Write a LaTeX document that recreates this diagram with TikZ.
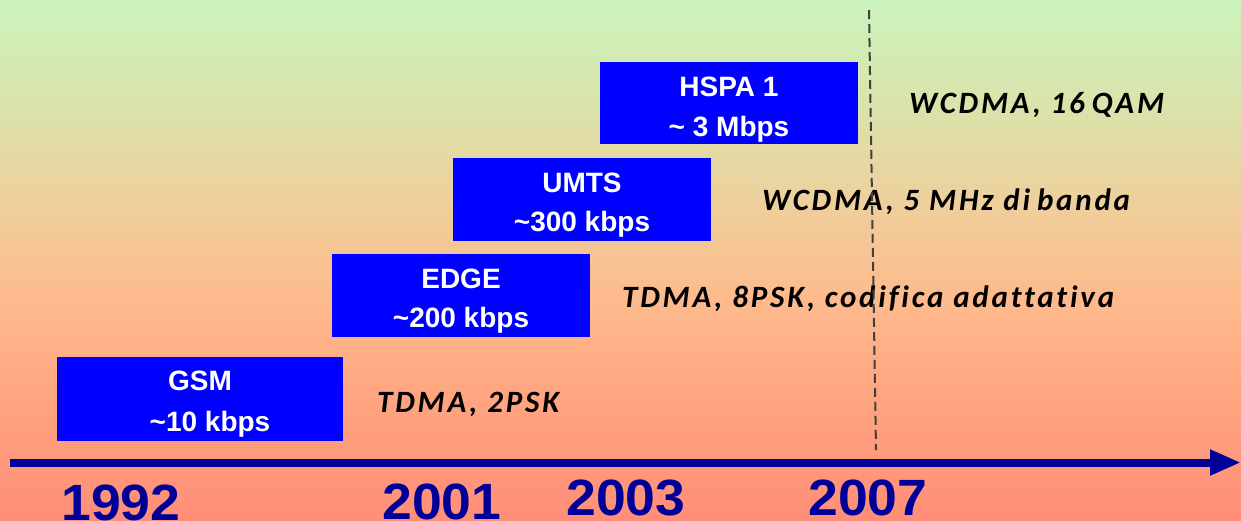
\documentclass[tikz,border=0pt]{standalone}
\usepackage{fontspec}
\setmainfont{Liberation Sans}
\newfontfamily\labfont[LetterSpace=9,Ligatures={NoCommon,NoRare}]{Carlito}
\newfontfamily\yearfont[FakeStretch=1.05]{Liberation Sans}
\usetikzlibrary{arrows.meta}
\definecolor{cT}{RGB}{203,244,189}
\definecolor{c4}{RGB}{217,228,172}
\definecolor{c3}{RGB}{238,208,156}
\definecolor{c2}{RGB}{254,186,140}
\definecolor{c1}{RGB}{255,164,128}
\definecolor{cB}{RGB}{255,142,120}
\definecolor{axisblue}{RGB}{0,0,153}
\definecolor{boxblue}{RGB}{0,0,255}
\definecolor{dashgray}{RGB}{64,64,64}
\pgfdeclareverticalshading{bgshade}{100bp}{color(0bp)=(cB); color(25bp)=(cB); color(36.54bp)=(c1); color(46.15bp)=(c2); color(55.77bp)=(c3); color(65.38bp)=(c4); color(75bp)=(cT); color(100bp)=(cT)}
\tikzset{
  box/.style={fill=boxblue, draw=none, inner sep=0pt},
  boxtxt/.style={text=white, inner sep=0pt, anchor=base, font=\bfseries\fontsize{28}{34}\selectfont},
  techtxt/.style={text=black, inner sep=0pt, anchor=base west, font=\labfont\bfseries\itshape\fontsize{31}{36}\selectfont},
  yeartxt/.style={text=axisblue, inner sep=0pt, anchor=base, font=\yearfont\bfseries\fontsize{51}{60}\selectfont},
  axisline/.style={draw=axisblue, line width=8pt, -{Triangle[length=31pt,width=24pt]}},
  dashline/.style={draw=dashgray, line width=2pt, dash pattern=on 9pt off 5pt}
}
\begin{document}
\begin{tikzpicture}[x=1pt,y=-1pt]
\useasboundingbox (0,0) rectangle (1241,520);
\fill[shading=bgshade] (0,0) rectangle (1241,520);
% boxes
\node[box, minimum width=258pt, minimum height=82pt] (hspa) at (729,103) {};
\node[box, minimum width=258pt, minimum height=83pt] (umts) at (582,199.5) {};
\node[box, minimum width=258pt, minimum height=83pt] (edge) at (461,295.5) {};
\node[box, minimum width=286pt, minimum height=84pt] (gsm) at (200,399) {};
% box texts
\node[boxtxt] (hspaA) at (729,96) {HSPA 1};
\node[boxtxt] (hspaB) at (729,136) {\textasciitilde{} 3 Mbps};
\node[boxtxt] (umtsA) at (582,192) {UMTS};
\node[boxtxt] (umtsB) at (582,231) {\textasciitilde300 kbps};
\node[boxtxt] (edgeA) at (461,288) {EDGE};
\node[boxtxt] (edgeB) at (461,327) {\textasciitilde200 kbps};
\node[boxtxt] (gsmA) at (200,390.5) {GSM};
\node[boxtxt] (gsmB) at (210,431) {\textasciitilde10 kbps};
% tech labels
\node[techtxt] (t4) at (909,113) {WCDMA, 16\hspace{-3pt} QAM};
\node[techtxt] (t3) at (762,210) {WCDMA, 5 MHz di\hspace{-3pt} banda};
\node[techtxt] (t2) at (622,307) {TDMA, 8PSK, codifica adattativa};
\node[techtxt] (t1) at (377,412) {TDMA, 2PSK};
% dashed line
\coordinate (dtop) at (869,10);
\coordinate (dbot) at (876,450);
\draw[dashline] (dtop) -- (dbot);
% axis
\coordinate (ax0) at (10,462.5);
\coordinate (ax1) at (1241,462.5);
\draw[axisline] (ax0) -- (ax1);
% years
\node[yeartxt] (y1992) at (121,520) {1992};
\node[yeartxt] (y2001) at (442,519.5) {2001};
\node[yeartxt] (y2003) at (626,515) {2003};
\node[yeartxt] (y2007) at (868,515) {2007};
\end{tikzpicture}
\end{document}
